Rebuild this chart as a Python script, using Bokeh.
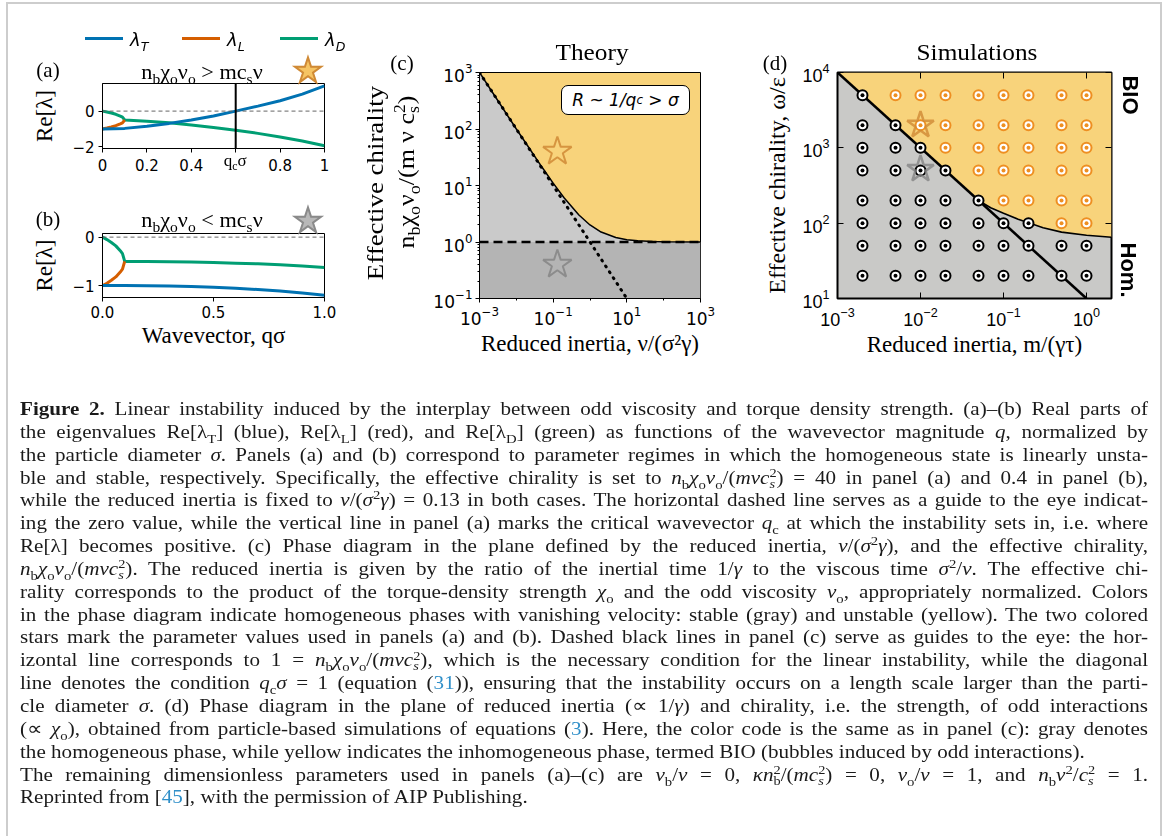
from bokeh.plotting import figure
from bokeh.models import Span, Range1d, FixedTicker, Div, LogAxis
from bokeh.layouts import column, row
from bokeh.embed import file_html
from bokeh.resources import INLINE

# ---------------- data ----------------
# panel (a): unstable case
a_q_T = [0.0, 0.1, 0.2, 0.3, 0.4, 0.5, 0.6, 0.7, 0.8, 0.9, 1.0]
a_lam_T = [-1.0, -0.97, -0.85, -0.69, -0.50, -0.27, 0.0, 0.28, 0.58, 0.95, 1.42]
a_q_L = [0.0, 0.02, 0.04, 0.06, 0.08, 0.09, 0.10]
a_lam_L = [-1.0, -0.95, -0.89, -0.82, -0.72, -0.66, -0.50]
a_q_D = [0.0, 0.02, 0.04, 0.06, 0.08, 0.09, 0.10, 0.2, 0.3, 0.4, 0.5, 0.6, 0.7, 0.8, 0.9, 1.0]
a_lam_D = [0.0, -0.05, -0.11, -0.18, -0.28, -0.34, -0.50, -0.57, -0.65, -0.78, -0.92, -1.07, -1.25, -1.45, -1.68, -1.95]
a_qc = 0.6
# panel (b): stable case
b_q_T = [0.0, 0.1, 0.2, 0.3, 0.4, 0.5, 0.6, 0.7, 0.8, 0.9, 1.0]
b_lam_T = [-1.0, -1.0, -1.005, -1.01, -1.02, -1.035, -1.055, -1.08, -1.11, -1.15, -1.2]
b_q_L = [0.0, 0.02, 0.04, 0.06, 0.08, 0.09, 0.10]
b_lam_L = [-1.0, -0.95, -0.89, -0.82, -0.72, -0.66, -0.50]
b_q_D = [0.0, 0.02, 0.04, 0.06, 0.08, 0.09, 0.10, 0.2, 0.3, 0.4, 0.5, 0.6, 0.7, 0.8, 0.9, 1.0]
b_lam_D = [0.0, -0.05, -0.11, -0.18, -0.28, -0.34, -0.50, -0.503, -0.508, -0.515, -0.525, -0.537, -0.55, -0.57, -0.595, -0.625]
# panel (c): theory phase diagram
c_bound_x = [1e-3, 2e-3, 5e-3, 1e-2, 2e-2, 5e-2, 0.1, 0.2, 0.5, 1, 2, 5, 10, 20, 50, 100, 1000]
c_bound_y = [1000, 500, 200, 100, 51, 21, 11, 6, 3, 2, 1.5, 1.2, 1.1, 1.05, 1.02, 1.01, 1.0]
c_guide_x = [1e-3, 1e1]
c_guide_y = [1e3, 1e-1]
c_threshold = 1.0
c_xlim = (1e-3, 1e3)
c_ylim = (1e-1, 1e3)
c_star_x = 0.13
c_star_a_y = 40
c_star_b_y = 0.4
# panel (d): simulations
d_x = [0.002, 0.005, 0.01, 0.02, 0.05, 0.1, 0.2, 0.5, 1.0]
d_y = [5000, 2000, 1000, 500, 200, 100, 50, 20]
d_phase = ["HBBBBBBBB", "HHBBBBBBB", "HHHBBBBBB", "HHHHBBBBB",
           "HHHHHBBBB", "HHHHHHHBB", "HHHHHHHHH", "HHHHHHHHH"]
d_line_x = [1e-3, 1.0]
d_line_y = [1e4, 10]
d_bound_x = [1e-3, 0.002, 0.005, 0.01, 0.02, 0.05, 0.07, 0.1, 0.15, 0.2, 0.3, 0.5, 1.0, 2.0]
d_bound_y = [1e4, 5000, 2000, 1000, 500, 200, 160, 135, 113, 101, 87, 76, 69, 65]
d_xlim = (1e-3, 2.0)
d_ylim = (10, 1e4)
d_xticks = [1e-3, 1e-2, 1e-1, 1.0]
d_yticks = [1e1, 1e2, 1e3, 1e4]
d_star_x = 0.01
d_star_a_y = 2000
d_star_b_y = 520

# ---------------- style ----------------
BLUE, ORANGE, GREEN = "#0072B2", "#D55E00", "#009E73"
YELLOW, LGRAY, DGRAY, DGRAY_D = "#f8d37b", "#cacaca", "#b4b4b4", "#c9c9c7"
DOT_OR = "#ee8f22"
STAR_OR, STAR_GR = "#d08a36", "#858585"
SERIF, SANS, DJV = "Liberation Serif", "Liberation Sans", "DejaVu Sans"


def base_fig(fw, fh, bl, br, bt, bb, xr, yr, xt="linear", yt="linear"):
    p = figure(frame_width=fw, frame_height=fh, min_border_left=bl, min_border_right=br,
               min_border_top=bt, min_border_bottom=bb, x_range=xr, y_range=yr,
               x_axis_type=xt, y_axis_type=yt, output_backend="svg", toolbar_location=None)
    p.xgrid.visible = False
    p.ygrid.visible = False
    p.outline_line_color = "black"
    p.outline_line_width = 1
    p.outline_line_alpha = 1
    return p


def style_axis(ax, font, size, tin, tout, standoff, minor_out=0):
    ax.major_label_text_font = font
    ax.major_label_text_font_size = f"{size}px"
    ax.major_label_text_color = "black"
    ax.major_tick_in = tin
    ax.major_tick_out = tout
    ax.major_tick_line_color = "black"
    ax.minor_tick_in = 0
    ax.minor_tick_out = minor_out
    ax.minor_tick_line_color = "black"
    ax.major_label_standoff = standoff
    ax.axis_line_color = "black"
    ax.axis_label_text_font = SERIF
    ax.axis_label_text_font_style = "normal"
    ax.axis_label_text_color = "black"


# ---------------- panel (a) ----------------
pa = base_fig(222, 65, 102, 26, 83, 47, Range1d(0, 1), Range1d(-2.1, 1.55))
pa.add_layout(Span(location=0, dimension="width", line_color="#666666", line_dash="4 3", line_width=1))
pa.line(a_q_D, a_lam_D, line_color=GREEN, line_width=3)
pa.line(a_q_L, a_lam_L, line_color=ORANGE, line_width=3)
pa.line(a_q_T, a_lam_T, line_color=BLUE, line_width=3)
pa.add_layout(Span(location=a_qc, dimension="height", line_color="black", line_width=2))
style_axis(pa.below[0], DJV, 15, 0, 4, 4)
style_axis(pa.left[0], DJV, 15, 0, 4, 4)
pa.below[0].ticker = FixedTicker(ticks=[0.0, 0.2, 0.4, a_qc, 0.8, 1.0])
pa.below[0].major_label_overrides = {0.0: "0", 0.2: "0.2", 0.4: "0.4", a_qc: " ", 0.8: "0.8", 1.0: "1"}
pa.left[0].ticker = FixedTicker(ticks=[-2, 0])
pa.left[0].major_label_overrides = {-2: "−2", 0: "0"}
pa.left[0].axis_label = "Re[λ]"
pa.left[0].axis_label_text_font_size = "23px"
pa.left[0].axis_label_standoff = 12

# ---------------- panel (b) ----------------
pb = base_fig(222, 64, 102, 26, 38, 101, Range1d(0, 1), Range1d(-1.245, 0.075))
pb.add_layout(Span(location=0, dimension="width", line_color="#666666", line_dash="4 3", line_width=1))
pb.line(b_q_D, b_lam_D, line_color=GREEN, line_width=3)
pb.line(b_q_L, b_lam_L, line_color=ORANGE, line_width=3)
pb.line(b_q_T, b_lam_T, line_color=BLUE, line_width=3)
style_axis(pb.below[0], DJV, 15, 0, 4, 4)
style_axis(pb.left[0], DJV, 15, 0, 4, 4)
pb.below[0].ticker = FixedTicker(ticks=[0.0, 0.5, 1.0])
pb.below[0].major_label_overrides = {0.0: "0.0", 0.5: "0.5", 1.0: "1.0"}
pb.left[0].ticker = FixedTicker(ticks=[-1, 0])
pb.left[0].major_label_overrides = {-1: "−1", 0: "0"}
pb.left[0].axis_label = "Re[λ]"
pb.left[0].axis_label_text_font_size = "23px"
pb.left[0].axis_label_standoff = 12
pb.below[0].axis_label = "Wavevector, qσ"
pb.below[0].axis_label_text_font_size = "23px"
pb.below[0].axis_label_standoff = 2

# ---------------- panel (c) ----------------
pc = base_fig(221, 226, 129, 35, 72, 100, Range1d(*c_xlim), Range1d(*c_ylim), "log", "log")
pc.background_fill_color = YELLOW
pc.varea(x=list(c_xlim), y1=[c_ylim[0]] * 2, y2=[c_threshold] * 2, fill_color=DGRAY)
pc.varea(x=c_bound_x, y1=[c_threshold] * len(c_bound_x), y2=c_bound_y, fill_color=LGRAY)
pc.line(c_bound_x, c_bound_y, line_color="black", line_width=1.5)
pc.line(c_guide_x, c_guide_y, line_color="black", line_width=3, line_dash="1 6", line_cap="round")
pc.line(list(c_xlim), [c_threshold] * 2, line_color="black", line_width=2.5, line_dash="9 5")
pc.scatter([c_star_x], [c_star_a_y], marker="star", size=30, fill_alpha=0,
           line_color=STAR_OR, line_width=2, line_alpha=0.85)
pc.scatter([c_star_x], [c_star_b_y], marker="star", size=30, fill_alpha=0,
           line_color=STAR_GR, line_width=2, line_alpha=0.85)
style_axis(pc.below[0], DJV, 17, 0, 4, 3, minor_out=2)
style_axis(pc.left[0], DJV, 17, 0, 4, 3, minor_out=2)
pc.below[0].ticker = FixedTicker(ticks=[1e-3, 1e-1, 1e1, 1e3], minor_ticks=[1e-2, 1, 1e2])
pc.left[0].ticker = FixedTicker(ticks=[1e-1, 1, 1e1, 1e2, 1e3],
                                minor_ticks=[k * 10.0 ** e for e in range(-1, 3) for k in range(2, 10)])
pc.below[0].axis_label = "Reduced inertia, ν/(σ²γ)"
pc.below[0].axis_label_text_font_size = "23px"
pc.below[0].axis_label_standoff = 3

# ---------------- panel (d) ----------------
pd_ = base_fig(274, 226, 102, 50, 72, 100, Range1d(*d_xlim), Range1d(*d_ylim), "log", "log")
pd_.outline_line_width = 2
pd_.background_fill_color = DGRAY_D
pd_.varea(x=d_bound_x, y1=d_bound_y, y2=[d_ylim[1]] * len(d_bound_x), fill_color=YELLOW)
pd_.line(d_bound_x[5:], d_bound_y[5:], line_color="black", line_width=1.6)
pd_.line(d_line_x, d_line_y, line_color="black", line_width=2.6)
hx, hy, bx, by = [], [], [], []
for yv, ph in zip(d_y, d_phase):
    for xv, c in zip(d_x, ph):
        if c == "H":
            hx.append(xv); hy.append(yv)
        else:
            bx.append(xv); by.append(yv)
pd_.scatter(hx, hy, marker="circle", size=10, fill_color="white", line_color="black", line_width=2)
pd_.scatter(hx, hy, marker="circle", size=4, fill_color="black", line_color=None)
pd_.scatter(bx, by, marker="circle", size=10, fill_color="white", line_color=DOT_OR, line_width=2)
pd_.scatter(bx, by, marker="circle", size=4, fill_color=DOT_OR, line_color=None)
pd_.scatter([d_star_x], [d_star_a_y], marker="star", size=28, fill_alpha=0,
            line_color=STAR_OR, line_width=2.5, line_alpha=0.8)
pd_.scatter([d_star_x], [d_star_b_y], marker="star", size=28, fill_alpha=0,
            line_color=STAR_GR, line_width=2.5, line_alpha=0.8)
xa, ya = pd_.below[0], pd_.left[0]
style_axis(xa, SANS, 18, 6, 0, 8)
style_axis(ya, SANS, 18, 6, 0, 8)
xa.ticker = FixedTicker(ticks=d_xticks)
ya.ticker = FixedTicker(ticks=d_yticks)
xa.axis_label = "Reduced inertia, m/(γτ)"
ya.axis_label = "Effective chirality, ω/ε"
xa.axis_label_text_font_size = "23px"
ya.axis_label_text_font_size = "24px"
xa.axis_label_standoff = 3
ya.axis_label_standoff = 9
# mirrored inward ticks on the right and top
for loc, tk in (("right", d_yticks), ("above", d_xticks)):
    pd_.add_layout(LogAxis(ticker=FixedTicker(ticks=tk), major_label_overrides={v: " " for v in tk},
                           major_label_text_font_size="10px", major_tick_in=6, major_tick_out=0,
                           major_tick_line_color="black", minor_tick_in=0, minor_tick_out=0,
                           axis_line_color=None, major_label_standoff=0), loc)


# ---------------- texts around the panels (page overlay) ----------------
def stack(sup, sub):
    return ('<span style="display:inline-block;vertical-align:-0.32em;line-height:0.85em;'
            f'font-size:0.68em;text-align:left">{sup}<br>{sub}</span>')


def fx(x, y, inner, font=SERIF, size=20, extra="", rot=None, sx=1.0, anchor="center"):
    tf = "translate(-50%,-50%)" if anchor == "center" else "translate(0,-50%)"
    if rot is not None:
        tf += f" rotate({rot}deg)"
    if sx != 1.0:
        tf += f" scaleX({sx})"
    org = "" if anchor == "center" else "transform-origin:0 50%;"
    return (f'<div style="position:fixed;left:{x}px;top:{y}px;transform:{tf};{org}white-space:nowrap;'
            f'font-family:\'{font}\';font-size:{size}px;line-height:1;color:#000;{extra}">{inner}</div>')


def bar(x0, x1, y, col):
    return (f'<div style="position:fixed;left:{x0}px;top:{y - 1.5}px;width:{x1 - x0}px;height:3px;'
            f'background:{col}"></div>')


def star(x, y, fill, stroke):
    return fx(x, y, "★", font=DJV, size=34, extra=f"color:{fill};-webkit-text-stroke:2px {stroke};")


NBXU = "n<sub>b</sub>χ<sub>o</sub>ν<sub>o</sub>"
ov = ['<div style="position:fixed;left:6px;top:2px;width:1156px;height:900px;'
      'border:2px solid #cdcdcd;border-bottom:none"></div>']
for x0, x1, col, s in [(85, 123, BLUE, "T"), (182, 220, ORANGE, "L"), (280, 318, GREEN, "D")]:
    ov.append(bar(x0, x1, 38, col))
    ov.append(fx(x1 + 7, 40, f"<i>λ<sub>{s}</sub></i>", font=DJV, size=18, anchor="left"))
ov.append(fx(48, 70, "(a)", size=21))
ov.append(fx(202, 72, f"{NBXU} &gt; mc<sub>s</sub>ν", size=21, sx=1.06))
ov.append(star(308, 70, "#f6c463", STAR_OR))
ov.append(fx(102 + a_qc * 222, 160, "q<sub>c</sub>σ", size=17))
ov.append(fx(48, 219, "(b)", size=21))
ov.append(fx(202, 220, f"{NBXU} &lt; mc<sub>s</sub>ν", size=21, sx=1.06))
ov.append(star(308, 220, "#b8b8b8", "#8a8a8a"))
ov.append(fx(592, 52, "Theory", size=23, sx=1.1))
ov.append(fx(402, 63, "(c)", size=21))
ov.append(fx(375, 183, "Effective chirality", size=24, rot=-90, sx=1.12))
ov.append(fx(407, 172, f"{NBXU}/(m ν c{stack('2', 's')})", size=24, rot=-90, sx=1.08))
ov.append('<div style="position:fixed;left:561px;top:85px;width:129px;height:30px;border:1px solid #000;'
          'border-radius:7px;background:#fff;display:flex;align-items:center;justify-content:center;'
          f'font-family:\'{DJV}\';font-size:17px;font-style:italic;color:#000">'
          'R&nbsp;~&nbsp;1/q<sub>c</sub>&nbsp;&gt;&nbsp;σ</div>')
ov.append(fx(977, 52, "Simulations", size=23, sx=1.1))
ov.append(fx(775, 63, "(d)", size=21))
ov.append(fx(1130, 95, "BIO", font=SANS, size=22, extra="font-weight:bold;", rot=90))
ov.append(fx(1128, 270, "Hom.", font=SANS, size=22, extra="font-weight:bold;", rot=90))

# ---------------- caption ----------------
REF = '<span style="color:#2f8fc9">{}</span>'
NBXH = "<i>n</i><sub>b</sub><i>χ</i><sub>o</sub><i>ν</i><sub>o</sub>"
CS2 = "<i>c</i>" + stack("2", "<i>s</i>")
MNUC = f"<i>mν</i>{CS2}"
caption_lines = [
    "<b>Figure 2.</b> Linear instability induced by the interplay between odd viscosity and torque density strength. (a)–(b) Real parts of",
    "the eigenvalues Re[λ<sub>T</sub>] (blue), Re[λ<sub>L</sub>] (red), and Re[λ<sub>D</sub>] (green) as functions of the wavevector magnitude <i>q</i>, normalized by",
    "the particle diameter <i>σ</i>. Panels (a) and (b) correspond to parameter regimes in which the homogeneous state is linearly unsta-",
    f"ble and stable, respectively. Specifically, the effective chirality is set to {NBXH}/({MNUC}) = 40 in panel (a) and 0.4 in panel (b),",
    "while the reduced inertia is fixed to <i>ν</i>/(<i>σ</i><sup>2</sup><i>γ</i>) = 0.13 in both cases. The horizontal dashed line serves as a guide to the eye indicat-",
    "ing the zero value, while the vertical line in panel (a) marks the critical wavevector <i>q</i><sub>c</sub> at which the instability sets in, i.e. where",
    "Re[λ] becomes positive. (c) Phase diagram in the plane defined by the reduced inertia, <i>ν</i>/(<i>σ</i><sup>2</sup><i>γ</i>), and the effective chirality,",
    f"{NBXH}/({MNUC}). The reduced inertia is given by the ratio of the inertial time 1/<i>γ</i> to the viscous time <i>σ</i><sup>2</sup>/<i>ν</i>. The effective chi-",
    "rality corresponds to the product of the torque-density strength <i>χ</i><sub>o</sub> and the odd viscosity <i>ν</i><sub>o</sub>, appropriately normalized. Colors",
    "in the phase diagram indicate homogeneous phases with vanishing velocity: stable (gray) and unstable (yellow). The two colored",
    "stars mark the parameter values used in panels (a) and (b). Dashed black lines in panel (c) serve as guides to the eye: the hor-",
    f"izontal line corresponds to 1 = {NBXH}/({MNUC}), which is the necessary condition for the linear instability, while the diagonal",
    "line denotes the condition <i>q</i><sub>c</sub><i>σ</i> = 1 (equation (" + REF.format("31") + ")), ensuring that the instability occurs on a length scale larger than the parti-",
    "cle diameter <i>σ</i>. (d) Phase diagram in the plane of reduced inertia (∝ 1/<i>γ</i>) and chirality, i.e. the strength, of odd interactions",
    "(∝ <i>χ</i><sub>o</sub>), obtained from particle-based simulations of equations (" + REF.format("3") + "). Here, the color code is the same as in panel (c): gray denotes",
    "the homogeneous phase, while yellow indicates the inhomogeneous phase, termed BIO (bubbles induced by odd interactions).",
    f"The remaining dimensionless parameters used in panels (a)–(c) are <i>ν</i><sub>b</sub>/<i>ν</i> = 0, <i>κn</i>{stack('2', 'b')}/(<i>m</i>{CS2}) = 0, <i>ν</i><sub>o</sub>/<i>ν</i> = 1, and <i>n</i><sub>b</sub><i>ν</i><sup>2</sup>/{CS2} = 1.",
    "Reprinted from [" + REF.format("45") + "], with the permission of AIP Publishing.",
]
SCALE = 1.14
justify = [True] * 15 + [False, True, False]
html = ['<style>sub,sup{font-size:70%;line-height:0}</style>']
html += ov
html += ['<div style="padding-left:20px;padding-top:0px">',
         f'<div style="transform:scaleX({SCALE});transform-origin:0 0;font-family:\'{SERIF}\';'
         'font-size:18.5px;color:#1a1a1a">']
for txt, j in zip(caption_lines, justify):
    if j:
        html.append(f'<div style="width:{1128 / SCALE:.1f}px;height:22.85px;line-height:22.85px;'
                    f'text-align:justify;text-align-last:justify">{txt}</div>')
    else:
        html.append(f'<div style="height:22.85px;line-height:22.85px;white-space:nowrap">{txt}</div>')
html.append('</div></div>')
cap = Div(text="".join(html), width=1160, height=420, margin=(0, 0, 0, 0))

top = row(column(pa, pb), pc, pd_)
root = column(top, cap)
open("out.html", "w").write(file_html(root, INLINE))
